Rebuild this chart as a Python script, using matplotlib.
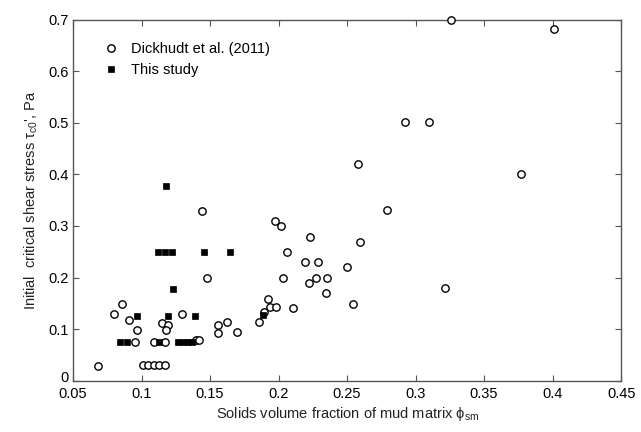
import numpy as np
import matplotlib
matplotlib.use("Agg")
import matplotlib.pyplot as plt
import matplotlib.transforms as mtransforms
from matplotlib.ticker import FormatStrFormatter

plt.rcParams['font.family'] = ['Liberation Sans', 'DejaVu Sans']
plt.rcParams['mathtext.fontset'] = 'custom'
plt.rcParams['mathtext.rm'] = 'Liberation Sans'
plt.rcParams['mathtext.it'] = 'Liberation Sans:italic'

# Dickhudt et al. (2011): solids volume fraction, critical shear stress (Pa)
dick_phi = [0.068, 0.080, 0.086, 0.091, 0.097, 0.095,
            0.101, 0.105, 0.109, 0.113, 0.117,
            0.109, 0.117, 0.115, 0.119, 0.118, 0.1295, 0.140, 0.142,
            0.1438, 0.1474, 0.1558, 0.1558, 0.1626, 0.1699,
            0.1858, 0.189, 0.1925, 0.194, 0.198, 0.1974, 0.2015, 0.2063,
            0.2032, 0.2104, 0.2228, 0.2193, 0.229, 0.2271, 0.2355, 0.2223,
            0.2343, 0.2498, 0.2546, 0.2597, 0.2583, 0.2793, 0.2925, 0.310,
            0.3213, 0.3257, 0.377, 0.401]
dick_tau = [0.029, 0.130, 0.149, 0.118, 0.099, 0.074,
            0.030, 0.030, 0.030, 0.030, 0.030,
            0.074, 0.074, 0.111, 0.108, 0.099, 0.130, 0.078, 0.079,
            0.330, 0.200, 0.108, 0.092, 0.114, 0.095,
            0.114, 0.133, 0.159, 0.143, 0.143, 0.310, 0.300, 0.250,
            0.199, 0.140, 0.279, 0.2295, 0.2295, 0.199, 0.199, 0.190,
            0.170, 0.220, 0.149, 0.2695, 0.421, 0.331, 0.501, 0.501,
            0.180, 0.700, 0.400, 0.682]

# This study
this_phi = [0.0843, 0.0891, 0.0964, 0.1128, 0.1121, 0.1172, 0.1225, 0.1181,
            0.1193, 0.1232, 0.1268, 0.1302, 0.1336, 0.137, 0.1391, 0.1452,
            0.1645, 0.1887]
this_tau = [0.074, 0.074, 0.126, 0.074, 0.25, 0.25, 0.25, 0.377,
            0.126, 0.177, 0.074, 0.074, 0.074, 0.074, 0.126, 0.25,
            0.25, 0.127]

xticks = [0.05, 0.1, 0.15, 0.2, 0.25, 0.3, 0.35, 0.4, 0.45]
yticks = [0, 0.1, 0.2, 0.3, 0.4, 0.5, 0.6, 0.7]

fig = plt.figure(figsize=(6.41, 4.32), dpi=100)
ax = fig.add_axes([0.114, 0.119, 0.855, 0.835])

ax.plot(dick_phi, dick_tau, 'o', mfc='white', mec='black', ms=5.3, mew=1.0,
        label='Dickhudt et al. (2011)', clip_on=False, zorder=3)
ax.plot(this_phi, this_tau, 's', mfc='black', mec='black', ms=4.8, mew=0.5,
        label='This study', clip_on=False, zorder=4)

ax.set_xlim(0.05, 0.45)
ax.set_ylim(0, 0.7)
ax.set_xticks(xticks)
ax.set_yticks(yticks)
ax.xaxis.set_major_formatter(FormatStrFormatter('%g'))
ax.yaxis.set_major_formatter(FormatStrFormatter('%g'))

for s in ax.spines.values():
    s.set_color('#555555')
    s.set_linewidth(1.0)
ax.tick_params(direction='in', top=True, right=True, length=4, width=0.8,
               color='#555555', labelsize=10.5)
ax.tick_params(axis='x', pad=4.5)
ax.tick_params(axis='y', pad=3)

# the "0" on the y axis sits just above the "0.05" on the x axis
lbl0 = ax.get_yticklabels()[0]
lbl0.set_transform(lbl0.get_transform() +
                   mtransforms.ScaledTranslation(0, 3 / 72, fig.dpi_scale_trans))

ax.set_xlabel('Solids volume fraction of mud matrix \u03d5$_{\\mathrm{sm}}$',
              fontsize=10.5, color='#222222', labelpad=3)
ax.set_ylabel("Initial  critical shear stress \u03c4$_{\\mathrm{c0}}$', Pa",
              fontsize=10.5, color='#222222', labelpad=6)

ax.legend(loc='upper left', bbox_to_anchor=(0.045, 0.955), frameon=False,
          fontsize=10.5, handletextpad=0.9, borderaxespad=0, labelspacing=0.5,
          handlelength=1.0)

fig.savefig('out.png', dpi=100)
